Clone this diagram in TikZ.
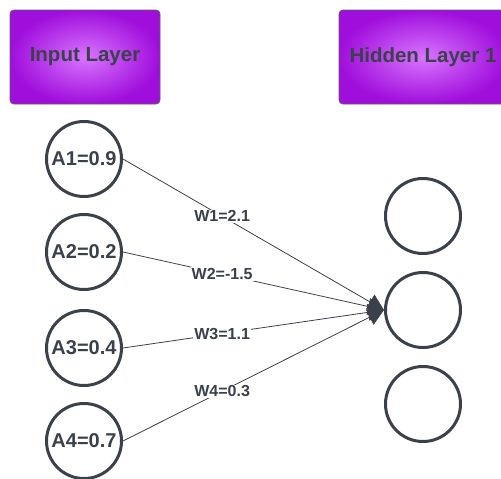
\documentclass[tikz,border=0pt]{standalone}
\usepackage{fontspec}
\setmainfont{Liberation Sans}
\usetikzlibrary{arrows.meta,positioning,calc}
\definecolor{ink}{HTML}{3B414B}
\definecolor{boxedge}{HTML}{5E5E66}
\definecolor{purplein}{HTML}{D875FF}
\definecolor{purpleout}{HTML}{A00EDC}

\begin{document}
\begin{tikzpicture}[x=1pt,y=-1pt]
\tikzset{
    layer/.style={rectangle,rounded corners=4pt,draw=boxedge,line width=0.8pt,
      inner color=purplein,outer color=purpleout,minimum height=94pt,
      text=ink,font=\bfseries\fontsize{20.5}{24}\selectfont},
    neuron/.style={circle,draw=ink,line width=3pt,minimum size=75pt,inner sep=0pt,
      text=ink,font=\bfseries\fontsize{20}{24}\selectfont},
    weight/.style={fill=white,inner sep=1pt,text=ink,
      font=\bfseries\fontsize{16}{19}\selectfont},
    wedge/.style={-{Triangle[length=16pt,width=17pt]},draw=ink,line width=0.8pt}
}
\useasboundingbox (0,0) rectangle (501,479);
\clip (0,0) rectangle (501,479);
  % layers
\node[layer,minimum width=150pt] (inlayer) at (85,57) {Input Layer};
\node[layer,minimum width=168pt] (hidlayer) at (423,57) {Hidden Layer 1};
  % input neurons
\node[neuron] (a1) at (84,159) {A1=0.9};
\node[neuron] (a2) at (84,252) {A2=0.2};
\node[neuron] (a3) at (84,348) {A3=0.4};
\node[neuron] (a4) at (84,441) {A4=0.7};
  % hidden neurons
\node[neuron] (h1) at (423,216) {};
\node[neuron] (h2) at (423,310) {};
\node[neuron] (h3) at (423,404) {};
% weights
\path
(a1.east) edge[wedge] node[weight,pos=0.38] {W1=2.1} (h2.west)
(a2.east) edge[wedge] node[weight,pos=0.38] {W2=-1.5} (h2.west)
(a3.east) edge[wedge] node[weight,pos=0.38] {W3=1.1} (h2.west)
(a4.east) edge[wedge] node[weight,pos=0.38] {W4=0.3} (h2.west)
;
\end{tikzpicture}
\end{document}
